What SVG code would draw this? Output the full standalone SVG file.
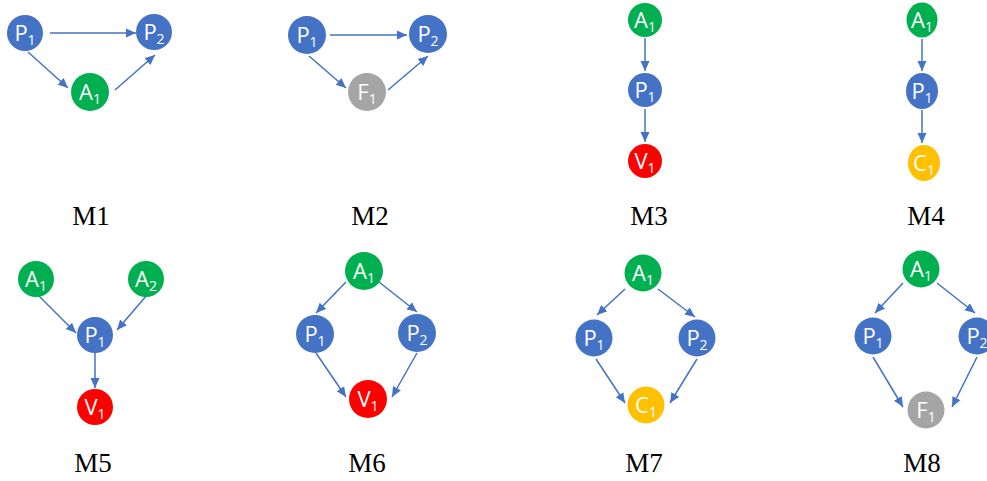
<svg xmlns="http://www.w3.org/2000/svg" width="987" height="481" viewBox="0 0 987 481">
<style>
.p{fill:#4472C4}.a{fill:#00B050}.v{fill:#FF0000}.c{fill:#FFC000}.f{fill:#A5A5A5}
.n{font-family:"Open Sans","Noto Sans","Liberation Sans",sans-serif;font-size:22px;fill:#fff;text-anchor:middle}
.s{font-size:14px}
.e line{stroke:#4472C4;stroke-width:1.5;marker-end:url(#ah)}
.lbl{font-family:"Liberation Serif","Times New Roman",serif;font-size:27px;fill:#000;text-anchor:middle}
</style>
<defs>
<marker id="ah" markerUnits="userSpaceOnUse" markerWidth="10" markerHeight="10" viewBox="0 0 10 10" refX="10" refY="5" orient="auto">
<path d="M0,0.5 L10,5 L0,9.5 Z" fill="#4472C4"/>
</marker>
</defs>
<rect width="987" height="481" fill="#fff"/>
<g class="e" id="connectors">
<line x1="50" y1="33" x2="136" y2="33"/>
<line x1="28" y1="52" x2="68" y2="88"/>
<line x1="115" y1="90" x2="155" y2="55"/>
<line x1="330" y1="35" x2="407" y2="35"/>
<line x1="309" y1="56" x2="346" y2="88"/>
<line x1="388" y1="90" x2="428" y2="56"/>
<line x1="645" y1="38" x2="645" y2="71"/>
<line x1="645" y1="109" x2="645" y2="142"/>
<line x1="922" y1="39" x2="922" y2="71"/>
<line x1="922" y1="110" x2="922" y2="143"/>
<line x1="38" y1="295" x2="76" y2="333"/>
<line x1="147" y1="295" x2="117" y2="330"/>
<line x1="95" y1="353" x2="95" y2="388"/>
<line x1="346" y1="282" x2="316" y2="313"/>
<line x1="379" y1="282" x2="417" y2="312"/>
<line x1="316" y1="353" x2="346" y2="397"/>
<line x1="417" y1="353" x2="392" y2="397"/>
<line x1="625" y1="289" x2="597" y2="315"/>
<line x1="658" y1="289" x2="695" y2="317"/>
<line x1="596" y1="359" x2="625" y2="403"/>
<line x1="697" y1="359" x2="670" y2="403"/>
<line x1="903" y1="283" x2="875" y2="313"/>
<line x1="937" y1="283" x2="975" y2="313"/>
<line x1="873" y1="357" x2="903" y2="407"/>
<line x1="977" y1="357" x2="952" y2="407"/>
</g>
<g id="m1-p1"><circle class="p" cx="25" cy="33" r="18"/><text class="n" x="25" y="41">P<tspan class="s" dy="4">1</tspan></text></g>
<g id="m1-p2"><circle class="p" cx="154" cy="32" r="18"/><text class="n" x="154" y="40">P<tspan class="s" dy="4">2</tspan></text></g>
<g id="m1-a1"><circle class="a" cx="90" cy="92" r="19"/><text class="n" x="90" y="100">A<tspan class="s" dy="4">1</tspan></text></g>
<g id="m2-p1"><circle class="p" cx="307" cy="35" r="19"/><text class="n" x="307" y="43">P<tspan class="s" dy="4">1</tspan></text></g>
<g id="m2-p2"><circle class="p" cx="428" cy="34" r="19"/><text class="n" x="428" y="42">P<tspan class="s" dy="4">2</tspan></text></g>
<g id="m2-f1"><circle class="f" cx="367" cy="92" r="19"/><text class="n" x="367" y="100">F<tspan class="s" dy="4">1</tspan></text></g>
<g id="m3-a1"><circle class="a" cx="645" cy="20" r="17"/><text class="n" x="645" y="28">A<tspan class="s" dy="4">1</tspan></text></g>
<g id="m3-p1"><circle class="p" cx="645" cy="90" r="17"/><text class="n" x="645" y="98">P<tspan class="s" dy="4">1</tspan></text></g>
<g id="m3-v1"><circle class="v" cx="645" cy="161" r="17"/><text class="n" x="645" y="169">V<tspan class="s" dy="4">1</tspan></text></g>
<g id="m4-a1"><ellipse class="a" cx="922" cy="20" rx="15.5" ry="17.5"/><text class="n" x="922" y="28">A<tspan class="s" dy="4">1</tspan></text></g>
<g id="m4-p1"><ellipse class="p" cx="922" cy="91" rx="16" ry="18"/><text class="n" x="922" y="99">P<tspan class="s" dy="4">1</tspan></text></g>
<g id="m4-c1"><ellipse class="c" cx="924" cy="163" rx="16" ry="18"/><text class="n" x="924" y="171">C<tspan class="s" dy="4">1</tspan></text></g>
<g id="m5-a1"><circle class="a" cx="36" cy="279" r="18"/><text class="n" x="36" y="287">A<tspan class="s" dy="4">1</tspan></text></g>
<g id="m5-a2"><circle class="a" cx="146" cy="279" r="18"/><text class="n" x="146" y="287">A<tspan class="s" dy="4">2</tspan></text></g>
<g id="m5-p1"><circle class="p" cx="95" cy="335" r="18"/><text class="n" x="95" y="343">P<tspan class="s" dy="4">1</tspan></text></g>
<g id="m5-v1"><circle class="v" cx="95" cy="407" r="18"/><text class="n" x="95" y="415">V<tspan class="s" dy="4">1</tspan></text></g>
<g id="m6-a1"><circle class="a" cx="364" cy="271" r="19"/><text class="n" x="364" y="279">A<tspan class="s" dy="4">1</tspan></text></g>
<g id="m6-p1"><circle class="p" cx="315" cy="334" r="19"/><text class="n" x="315" y="342">P<tspan class="s" dy="4">1</tspan></text></g>
<g id="m6-p2"><circle class="p" cx="417" cy="333" r="19"/><text class="n" x="417" y="341">P<tspan class="s" dy="4">2</tspan></text></g>
<g id="m6-v1"><circle class="v" cx="368" cy="399" r="19"/><text class="n" x="368" y="407">V<tspan class="s" dy="4">1</tspan></text></g>
<g id="m7-a1"><circle class="a" cx="643" cy="273" r="18.5"/><text class="n" x="643" y="281">A<tspan class="s" dy="4">1</tspan></text></g>
<g id="m7-p1"><circle class="p" cx="594" cy="338" r="18.5"/><text class="n" x="594" y="346">P<tspan class="s" dy="4">1</tspan></text></g>
<g id="m7-p2"><circle class="p" cx="697" cy="338" r="18.5"/><text class="n" x="697" y="346">P<tspan class="s" dy="4">2</tspan></text></g>
<g id="m7-c1"><circle class="c" cx="646" cy="405" r="18.5"/><text class="n" x="646" y="413">C<tspan class="s" dy="4">1</tspan></text></g>
<g id="m8-a1"><circle class="a" cx="921" cy="269" r="18.5"/><text class="n" x="921" y="277">A<tspan class="s" dy="4">1</tspan></text></g>
<g id="m8-p1"><circle class="p" cx="873" cy="336" r="18.5"/><text class="n" x="873" y="344">P<tspan class="s" dy="4">1</tspan></text></g>
<g id="m8-p2"><circle class="p" cx="977" cy="336" r="18.5"/><text class="n" x="977" y="344">P<tspan class="s" dy="4">2</tspan></text></g>
<g id="m8-f1"><circle class="f" cx="926" cy="410" r="18.5"/><text class="n" x="926" y="418">F<tspan class="s" dy="4">1</tspan></text></g>
<g id="labels">
<text class="lbl" x="91" y="225">M1</text>
<text class="lbl" x="370" y="225">M2</text>
<text class="lbl" x="649" y="225">M3</text>
<text class="lbl" x="926" y="225">M4</text>
<text class="lbl" x="93" y="472">M5</text>
<text class="lbl" x="367" y="472">M6</text>
<text class="lbl" x="644" y="472">M7</text>
<text class="lbl" x="922" y="472">M8</text>
</g>
</svg>
